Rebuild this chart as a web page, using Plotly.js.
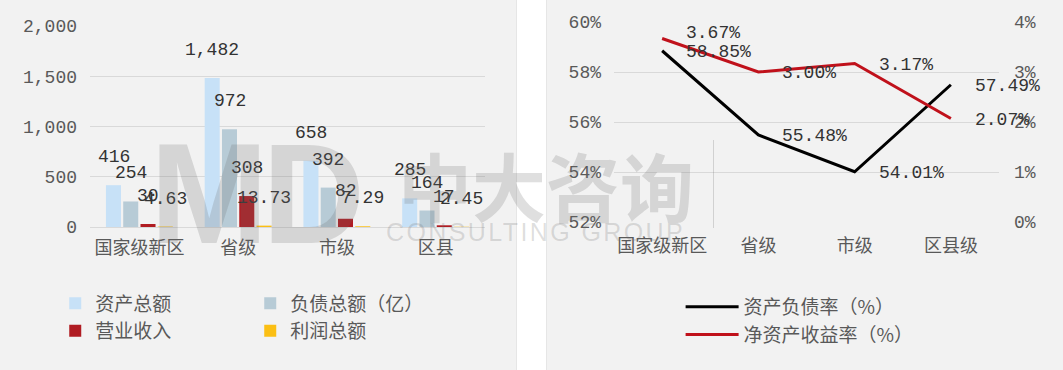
<!DOCTYPE html>
<html>
<head>
<meta charset="utf-8">
<script src="https://cdn.plot.ly/plotly-3.0.1.min.js"></script>
<style>
  html, body { margin: 0; padding: 0; background: #ffffff; }
  #wrap { position: relative; width: 1063px; height: 370px; overflow: hidden; }
  #left { position: absolute; left: 0; top: 0; width: 516px; height: 370px; border-right: 1px solid #e6e6e6; }
  #right { position: absolute; left: 546px; top: 0; width: 517px; height: 370px; border-left: 1px solid #e6e6e6; }
  #mark { position: absolute; left: 0; top: 0; width: 1063px; height: 370px; pointer-events: none; z-index: 10; }
  #mark span { position: absolute; color: rgba(110,110,110,0.22); white-space: nowrap; line-height: 1; }
  #mark .bar { position: absolute; width: 1px; background: rgba(110,110,110,0.25); }
</style>
</head>
<body>
<div id="wrap">
  <div id="left"></div>
  <div id="right"></div>
  <div id="mark">
    <span style="left:150px; top:112px; font: bold 142px 'Liberation Sans', sans-serif; letter-spacing:-6px;">MD</span>
    <span style="left:398px; top:130px; font: bold 74px 'Noto Sans CJK SC', sans-serif;">中大咨询</span>
    <span style="left:386px; top:218px; font: 25px 'Liberation Sans', sans-serif; letter-spacing:2.4px;">CONSULTING GROUP</span>
    <div class="bar" style="left:713px; top:140px; height:88px;"></div>
  </div>
</div>
<script>
// Financial scale by platform level
const categories = ['国家级新区', '省级', '市级', '区县'];
const totalAssets = [416, 1482, 658, 285];
const totalLiabilities = [254, 972, 392, 164];
const revenue = [30, 308, 82, 17];
const totalProfit = [4.63, 13.73, 7.29, 2.45];

const barNames = ['资产总额', '负债总额（亿）', '营业收入', '利润总额'];
const barColors = ['#c7e1f7', '#b7cbd6', '#b01c22', '#fbbf14'];

// Ratios by platform level
const lineCategories = ['国家级新区', '省级', '市级', '区县级'];
const debtRatio = [58.85, 55.48, 54.01, 57.49];
const roe = [3.67, 3.00, 3.17, 2.07];

const monoFont = 'Liberation Mono, Noto Sans CJK SC, monospace';
const labelFont = { family: monoFont, size: 18, color: '#333333' };
const tickFont = { family: monoFont, size: 18, color: '#595959' };
const legendFont = { family: 'Noto Sans CJK SC, sans-serif', size: 19, color: '#595959' };

function fmtValue(v) {
  return Number.isInteger(v) ? v.toLocaleString('en-US') : v.toFixed(2);
}

// ---- grouped bar chart ----
const barSeries = [totalAssets, totalLiabilities, revenue, totalProfit];
const barTraces = barSeries.map((vals, i) => ({
  type: 'bar',
  x: categories,
  y: vals,
  name: barNames[i],
  marker: { color: barColors[i] },
  hoverinfo: 'skip'
}));

const slot = 17.25; // px per bar slot within a group
const barLabels = [];
barSeries.forEach((vals, i) => {
  vals.forEach((v, j) => {
    barLabels.push({
      x: categories[j], y: v, xref: 'x', yref: 'y',
      text: fmtValue(v), showarrow: false,
      xanchor: 'center', yanchor: 'bottom',
      xshift: (i - 1.5) * slot, yshift: 16,
      font: labelFont
    });
  });
});

Plotly.newPlot('left', barTraces, {
  width: 516, height: 370,
  margin: { l: 90, r: 31, t: 26, b: 143 },
  paper_bgcolor: '#f2f2f2', plot_bgcolor: '#f2f2f2',
  barmode: 'group', bargap: 0.30, bargroupgap: 0.13,
  xaxis: {
    type: 'category', tickfont: tickFont, showline: false, ticks: '', showgrid: false,
    ticklabelstandoff: 8, fixedrange: true
  },
  yaxis: {
    range: [0, 2000], dtick: 500, tickformat: ',', tickfont: tickFont,
    gridcolor: '#d9d9d9', gridwidth: 1, zeroline: true, zerolinecolor: '#d9d9d9',
    zerolinewidth: 1, showline: false, ticks: '', ticklabelstandoff: 12, fixedrange: true
  },
  showlegend: true,
  legend: {
    orientation: 'h', x: -0.088, xanchor: 'left', y: -0.285, yanchor: 'top',
    entrywidth: 150, entrywidthmode: 'pixels',
    font: legendFont, bgcolor: 'rgba(0,0,0,0)', traceorder: 'normal'
  },
  annotations: barLabels
}, { displayModeBar: false, staticPlot: true });

// ---- ratio line chart ----
const lineTraces = [
  {
    type: 'scatter', mode: 'lines', x: lineCategories, y: debtRatio,
    name: '资产负债率（%）', line: { color: '#000000', width: 3 }, yaxis: 'y'
  },
  {
    type: 'scatter', mode: 'lines', x: lineCategories, y: roe,
    name: '净资产收益率（%）', line: { color: '#c0111b', width: 3 }, yaxis: 'y2'
  }
];

const lineLabels = [];
debtRatio.forEach((v, j) => {
  lineLabels.push({
    x: lineCategories[j], y: v, xref: 'x', yref: 'y',
    text: v.toFixed(2) + '%', showarrow: false,
    xanchor: 'left', yanchor: 'middle', xshift: 22, yshift: -1,
    font: labelFont
  });
});
roe.forEach((v, j) => {
  lineLabels.push({
    x: lineCategories[j], y: v, xref: 'x', yref: 'y2',
    text: v.toFixed(2) + '%', showarrow: false,
    xanchor: 'left', yanchor: 'middle', xshift: 22, yshift: j === 0 ? 6 : -1,
    font: labelFont
  });
});

Plotly.newPlot('right', lineTraces, {
  width: 517, height: 370,
  margin: { l: 67, r: 65, t: 22, b: 148 },
  paper_bgcolor: '#f2f2f2', plot_bgcolor: '#f2f2f2',
  xaxis: {
    type: 'category', range: [-0.5, 3.5], tickfont: tickFont, showline: false, ticks: '',
    showgrid: false, ticklabelstandoff: 11, fixedrange: true
  },
  yaxis: {
    range: [52, 60], dtick: 2, ticksuffix: '%', tickfont: tickFont,
    gridcolor: '#d9d9d9', gridwidth: 1, zeroline: false, showline: false,
    ticks: '', ticklabelstandoff: 12, fixedrange: true
  },
  yaxis2: {
    overlaying: 'y', side: 'right', range: [0, 4], dtick: 1, ticksuffix: '%',
    tickfont: tickFont, showgrid: false, zeroline: false, showline: false,
    ticks: '', ticklabelstandoff: 14, fixedrange: true
  },
  showlegend: true,
  legend: {
    orientation: 'v', x: 0.173, xanchor: 'left', y: -0.33, yanchor: 'top',
    itemwidth: 53, font: legendFont, bgcolor: 'rgba(0,0,0,0)', traceorder: 'normal'
  },
  annotations: lineLabels
}, { displayModeBar: false, staticPlot: true });
</script>
</body>
</html>
